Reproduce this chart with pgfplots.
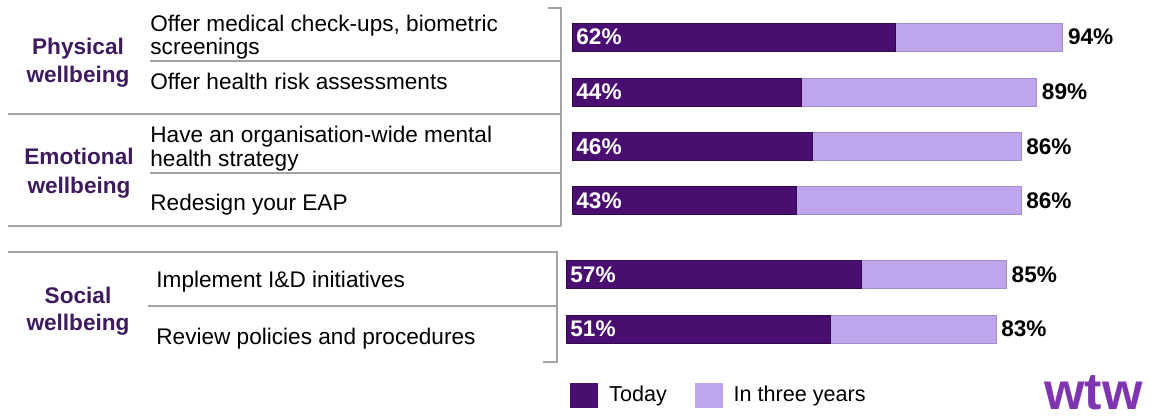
\documentclass[border=0pt]{standalone}
\usepackage{pgfplots}
\pgfplotsset{compat=1.18}
\usepackage{pgfplotstable}
\usepackage{fontspec}
\setmainfont{Liberation Sans}
\definecolor{todayc}{HTML}{4A0E70}
\definecolor{futc}{HTML}{BFA6EC}
\definecolor{catc}{HTML}{3E1A5E}
\definecolor{linec}{HTML}{A3A3A3}
\definecolor{logoc}{HTML}{7F35B2}
\newcommand\f{\fontsize{11.3}{13}\selectfont}

\pgfplotstableread{
y today future
37 62 94
92 44 89
146.5 46 86
200.5 43 86
}\topdata
\pgfplotstableread{
y today future
274.5 57 85
329 51 83
}\botdata

\begin{document}
\begin{tikzpicture}[x=0.5pt,y=-0.5pt]
\path[use as bounding box] (0,0) rectangle (1151,419);
% table rules
\begin{scope}[draw=linec, line width=0.8pt]
\draw (150,61) -- (561,61);
\draw (8,114) -- (561,114);
\draw (150,173) -- (561,173);
\draw (8,226) -- (561,226);
\draw (548,8) -- (561,8) -- (561,226);
\draw (8,252) -- (557,252) -- (557,362) -- (543,362);
\draw (148,306) -- (557,306);
\end{scope}
% category labels
\begin{scope}[every node/.style={font=\f\bfseries, text=catc, anchor=base, inner sep=0pt}]
\node at (78,54) {Physical};
\node at (78,82) {wellbeing};
\node at (79,164) {Emotional};
\node at (79,193) {wellbeing};
\node at (78,303) {Social};
\node at (78,330) {wellbeing};
\end{scope}
% item labels
\begin{scope}[every node/.style={font=\f, text=black, anchor=base west, inner sep=0pt}]
\node at (150,31) {Offer medical check-ups, biometric};
\node at (150,54) {screenings};
\node at (150,89) {Offer health risk assessments};
\node at (150,142) {Have an organisation-wide mental};
\node at (150,166) {health strategy};
\node at (150,210) {Redesign your EAP};
\node at (156,287) {Implement I\&D initiatives};
\node at (156,344) {Review policies and procedures};
\end{scope}

% top group bars
\begin{axis}[at={(286pt,0pt)}, anchor=north west, scale only axis,
  width=261pt, height=209.5pt, xmin=0, xmax=100, ymin=0, ymax=419,
  y dir=reverse, hide axis, clip=false, bar width=14pt,
  /pgf/number format/assume math mode=true]
\addplot[xbar, bar shift=0pt, fill=futc, draw=futc!85!black, line width=0.4pt,
  nodes near coords={\pgfmathprintnumber{\pgfplotspointmeta}\%}, point meta=x,
  every node near coord/.append style={anchor=west, font=\f\bfseries, text=black, inner sep=0pt, xshift=2.5pt}]
  table[x=future, y=y]{\topdata};
\addplot[xbar, bar shift=0pt, fill=todayc, draw=todayc!70!black, line width=0.4pt]
  table[x=today, y=y]{\topdata};
\addplot[draw=none, mark=none,
  nodes near coords={\pgfmathprintnumber{\pgfplotspointmeta}\%}, point meta={\thisrow{today}},
  every node near coord/.append style={anchor=west, font=\f\bfseries, text=white, inner sep=0pt, xshift=2pt}]
  table[x expr=0, y=y]{\topdata};
\end{axis}

% bottom group bars + legend
\begin{axis}[at={(283pt,0pt)}, anchor=north west, scale only axis,
  width=259pt, height=209.5pt, xmin=0, xmax=100, ymin=0, ymax=419,
  y dir=reverse, hide axis, clip=false, bar width=14pt,
  /pgf/number format/assume math mode=true,
  legend style={at={(axis cs:0.77,395)}, anchor=west, draw=none, fill=none,
    inner sep=0pt, font=\fontsize{10.8}{12}\selectfont, nodes={inner sep=0pt},
    /tikz/every odd column/.append style={column sep=5.5pt},
    /tikz/every even column/.append style={column sep=14pt}},
  legend columns=2]
\addlegendimage{legend image code/.code={\fill[todayc] (0pt,-6pt) rectangle (13.5pt,6pt);}}
\addlegendentry{Today}
\addlegendimage{legend image code/.code={\fill[futc] (0pt,-6pt) rectangle (13.5pt,6pt);}}
\addlegendentry{In three years}
\addplot[forget plot, xbar, bar shift=0pt, fill=futc, draw=futc!85!black, line width=0.4pt,
  nodes near coords={\pgfmathprintnumber{\pgfplotspointmeta}\%}, point meta=x,
  every node near coord/.append style={anchor=west, font=\f\bfseries, text=black, inner sep=0pt, xshift=2.5pt}]
  table[x=future, y=y]{\botdata};
\addplot[forget plot, xbar, bar shift=0pt, fill=todayc, draw=todayc!70!black, line width=0.4pt]
  table[x=today, y=y]{\botdata};
\addplot[forget plot, draw=none, mark=none,
  nodes near coords={\pgfmathprintnumber{\pgfplotspointmeta}\%}, point meta={\thisrow{today}},
  every node near coord/.append style={anchor=west, font=\f\bfseries, text=white, inner sep=0pt, xshift=2pt}]
  table[x expr=0, y=y]{\botdata};
\end{axis}

% logo
\node[font=\fontsize{26}{28}\selectfont\bfseries, text=logoc, anchor=base west, inner sep=0pt] at (1044,409) {wtw};
\end{tikzpicture}
\end{document}
